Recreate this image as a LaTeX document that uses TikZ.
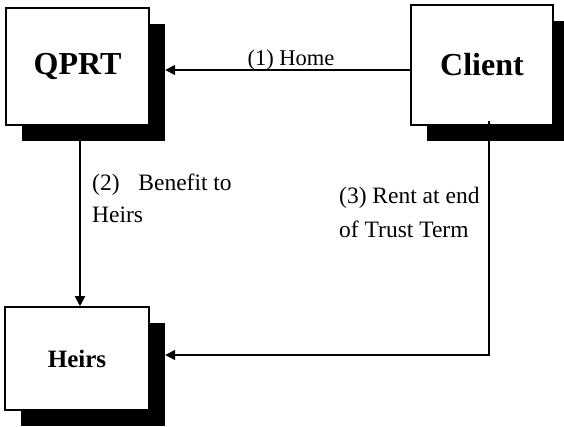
\documentclass[tikz,border=0pt]{standalone}
\usepackage{fontspec}
\setmainfont{Liberation Serif}
\usetikzlibrary{arrows.meta}
\begin{document}
\begin{tikzpicture}[x=1pt,y=-1pt,
  box/.style={draw=black,line width=1.6pt,fill=white,inner sep=0pt,
    minimum width=#1},
  shade/.style={fill=black,draw=none,inner sep=0pt},
  flow/.style={line width=1.6pt,-{Triangle[length=10pt,width=10pt]}},
  lbl/.style={inner sep=0pt,anchor=base west,font=\fontsize{23.5}{28}\selectfont},
  big/.style={font=\fontsize{32}{36}\selectfont\bfseries},
]
\useasboundingbox (0,0) rectangle (564,426);

% drop shadows behind the boxes
\node[shade,minimum width=143pt,minimum height=117pt] (qprtsh) at (93.5,82.5) {};
\node[shade,minimum width=142pt,minimum height=120pt] (clientsh) at (498,81) {};
\node[shade,minimum width=144pt,minimum height=103pt] (heirssh) at (93,374.5) {};

% the three parties
\node[box=143pt,minimum height=117pt,big] (qprt) at (77.5,66.5) {QPRT};
\node[box=142pt,minimum height=120pt,big] (client) at (482,65) {Client};
\node[box=144pt,minimum height=103pt,font=\fontsize{25}{30}\selectfont\bfseries] (heirs) at (77,358.5) {Heirs};

% routing coordinates
\coordinate (homey) at (0,70);
\coordinate (benx) at (80,0);
\coordinate (rentx) at (489,121);
\coordinate (renty) at (0,355);

% (1) home transferred to the trust
\draw[flow] (client.west |- homey) -- (qprtsh.east |- homey);
\node[lbl,anchor=base,font=\fontsize{22.5}{27}\selectfont] (homelbl) at (291,65) {(1) Home};

% (2) remainder passes to the heirs
\draw[flow] (qprtsh.south -| benx) -- (heirs.north -| benx);
\node[lbl] (benlbl1) at (92,190) {(2)\hspace{0.8em}Benefit to};
\node[lbl] (benlbl2) at (92,222) {Heirs};

% (3) rent paid after the trust term
\draw[flow] (rentx) -- (rentx |- renty) -- (heirssh.east |- renty);
\node[lbl] (rentlbl1) at (339,203) {(3) Rent at end};
\node[lbl] (rentlbl2) at (339,237) {of Trust Term};
\end{tikzpicture}
\end{document}
